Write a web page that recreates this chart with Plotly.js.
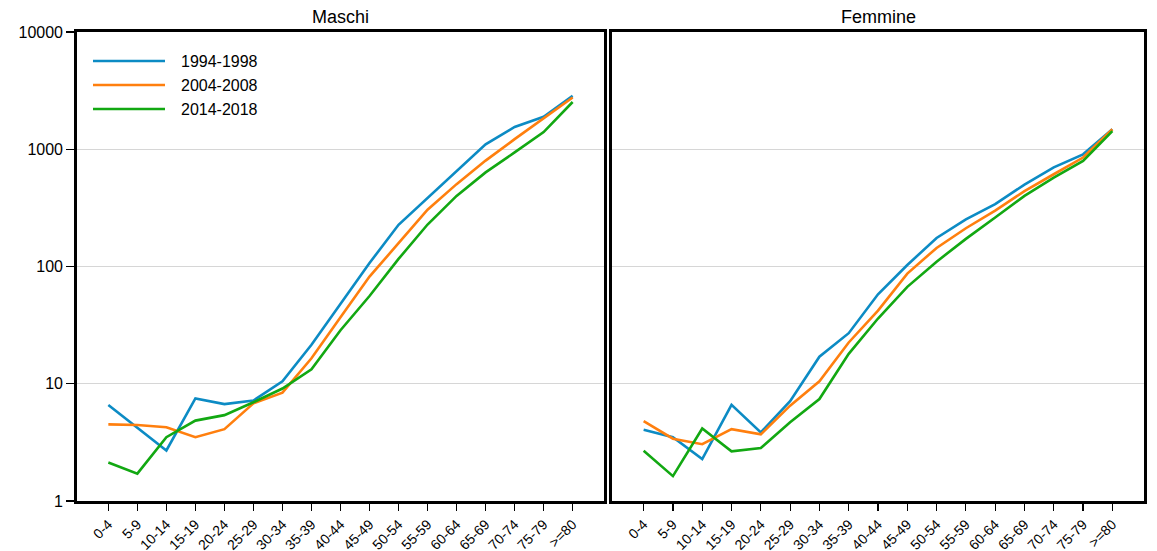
<!DOCTYPE html>
<html>
<head>
<meta charset="utf-8">
<script src="https://cdn.plot.ly/plotly-3.0.1.min.js"></script>
<style>
  html, body { margin: 0; padding: 0; background: #fff; }
  #chart { width: 1157px; height: 551px; }
</style>
</head>
<body>
<div id="chart"></div>
<script>
// ---- Data ----
const ageGroups = ["0-4","5-9","10-14","15-19","20-24","25-29","30-34","35-39","40-44","45-49","50-54","55-59","60-64","65-69","70-74","75-79",">=80"];
const seriesNames = ["1994-1998", "2004-2008", "2014-2018"];
const panelTitles = ["Maschi", "Femmine"];

const maschi_1994 = [6.6, 4.2, 2.7, 7.5, 6.7, 7.2, 10.5, 21.5, 48.5, 107, 227, 385, 655, 1100, 1550, 1890, 2850];
const maschi_2004 = [4.5, 4.45, 4.25, 3.5, 4.1, 6.8, 8.4, 16.5, 37, 82, 158, 305, 504, 800, 1220, 1820, 2760];
const maschi_2014 = [2.13, 1.71, 3.5, 4.85, 5.4, 6.95, 9.1, 13.3, 28.6, 56, 116, 228, 400, 635, 940, 1400, 2530];

const femmine_1994 = [4.05, 3.5, 2.28, 6.6, 3.85, 7.1, 17, 27, 58, 103, 175, 252, 340, 500, 700, 905, 1480];
const femmine_2004 = [4.8, 3.4, 3.05, 4.1, 3.7, 6.5, 10.5, 22.5, 42, 87, 144, 212, 300, 440, 612, 850, 1480];
const femmine_2014 = [2.68, 1.63, 4.15, 2.65, 2.83, 4.7, 7.4, 18, 36, 67, 110, 172, 262, 400, 573, 795, 1430];

const yTickVals = [1, 10, 100, 1000, 10000];
const yTickText = ["1", "10", "100", "1000", "10000"];

// ---- Styling ----
const colors = ["#0c8bc4", "#ff7f0e", "#12a812"];
const W = 1157, H = 551;
const px = v => v / W;
const py = v => 1 - v / H;

const maschi = [maschi_1994, maschi_2004, maschi_2014];
const femmine = [femmine_1994, femmine_2004, femmine_2014];

const traces = [];
seriesNames.forEach((name, i) => {
  traces.push({ x: ageGroups.map((_, k) => k), y: maschi[i], type: "scatter", mode: "lines",
    name: name, line: { color: colors[i], width: 2.6 }, xaxis: "x", yaxis: "y", showlegend: false,
    hoverinfo: "x+y+name" });
  traces.push({ x: ageGroups.map((_, k) => k), y: femmine[i], type: "scatter", mode: "lines",
    name: name, line: { color: colors[i], width: 2.6 }, xaxis: "x2", yaxis: "y2", showlegend: false,
    hoverinfo: "x+y+name" });
});

const font = { family: "Liberation Sans, Arial, sans-serif", color: "#000" };
const xRange = [-1.08, 17.08];

function xAxis(domain, anchor) {
  return {
    domain: domain, anchor: anchor, range: xRange,
    tickmode: "array", tickvals: ageGroups.map((_, k) => k), ticktext: ageGroups,
    tickangle: -45, ticks: "outside", ticklen: 7, tickwidth: 1.2, tickcolor: "#000",
    tickfont: Object.assign({ size: 14 }, font),
    showgrid: false, zeroline: false,
    showline: true, linecolor: "#000", linewidth: 2.8, mirror: true
  };
}
function yAxis(domain, anchor, showLabels) {
  return {
    domain: domain, anchor: anchor, type: "log", range: [0, 4],
    tickmode: "array", tickvals: yTickVals, ticktext: showLabels ? yTickText : yTickVals.map(() => ""),
    ticks: showLabels ? "outside" : "", ticklen: 8, tickwidth: 1.2, tickcolor: "#000",
    tickfont: Object.assign({ size: 16 }, font),
    showgrid: true, gridcolor: "#d6d6d6", gridwidth: 1, zeroline: false,
    showline: true, linecolor: "#000", linewidth: 2.8, mirror: true
  };
}

const yDom = [py(501), py(32)];
const layout = {
  width: W, height: H,
  margin: { l: 0, r: 0, t: 0, b: 0, pad: 0 },
  paper_bgcolor: "#fff", plot_bgcolor: "#fff",
  showlegend: false,
  xaxis: xAxis([px(77), px(604)], "y"),
  yaxis: yAxis(yDom, "x", true),
  xaxis2: xAxis([px(612), px(1144)], "y2"),
  yaxis2: yAxis(yDom, "x2", false),
  annotations: [
    { text: panelTitles[0], xref: "paper", yref: "paper", x: (px(77) + px(604)) / 2, y: py(17),
      xanchor: "center", yanchor: "middle", showarrow: false, font: Object.assign({ size: 18 }, font) },
    { text: panelTitles[1], xref: "paper", yref: "paper", x: (px(612) + px(1144)) / 2, y: py(17),
      xanchor: "center", yanchor: "middle", showarrow: false, font: Object.assign({ size: 18 }, font) }
  ],
  shapes: []
};

// custom legend inside left panel
const legendY = [61, 85, 109];
seriesNames.forEach((name, i) => {
  layout.shapes.push({ type: "line", xref: "paper", yref: "paper",
    x0: px(93), x1: px(165), y0: py(legendY[i]), y1: py(legendY[i]),
    line: { color: colors[i], width: 2.6 } });
  layout.annotations.push({ text: name, xref: "paper", yref: "paper", x: px(179), y: py(legendY[i]),
    xanchor: "left", yanchor: "middle", showarrow: false, font: Object.assign({ size: 16 }, font) });
});

Plotly.newPlot("chart", traces, layout, { staticPlot: true, displayModeBar: false });
</script>
</body>
</html>
